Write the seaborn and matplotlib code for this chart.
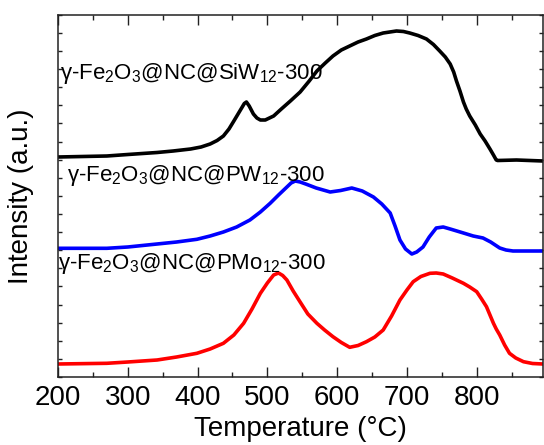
import numpy as np
import pandas as pd
import matplotlib
matplotlib.use("Agg")
import matplotlib.pyplot as plt
from matplotlib.ticker import MultipleLocator
import seaborn as sns

# ---- data (intensity in arbitrary units) ----
siw_T = [200, 270, 300, 342, 365, 390, 405, 418, 428, 437,
         445, 452, 458, 464, 467, 470, 474, 480, 485, 490,
         497, 509, 520, 533, 547, 560, 571, 583, 594, 606,
         618, 630, 642, 654, 666, 685, 695, 704, 716, 728,
         738, 747, 755, 762, 767, 771, 776, 781, 785, 790,
         798, 805, 812, 819, 824, 828, 830, 857, 895]
siw_I = [220, 221, 222.5, 224.5, 226, 228, 230, 233, 236.5, 241,
         248, 256, 263, 270, 273.5, 275, 271, 263, 259, 257,
         257, 261, 268, 276, 285, 296, 306, 314, 321, 327,
         331, 335, 338, 341.5, 344, 346, 345.5, 344, 341.5, 338,
         332.5, 326, 320, 313, 305, 296, 286, 275, 268, 261,
         252, 243, 236, 228, 222, 217, 216.5, 217, 216]

pw_T = [200, 270, 300, 342, 370, 399, 418, 437, 456, 475,
        490, 504, 516, 528, 534, 540, 547, 555, 570, 590,
        605, 621, 636, 652, 664, 676, 683, 690, 698, 707,
        714, 723, 732, 742, 752, 762, 781, 795, 809, 820,
        833, 842, 852, 895]
pw_I = [128.7, 128.7, 130, 133, 135, 137.7, 141, 145, 150, 157,
        165, 173.7, 182, 190, 194, 196, 195, 193, 189, 185,
        186.5, 189, 186, 180, 173, 164, 151, 137, 128, 123,
        125, 130, 140, 149, 150, 148, 144, 141, 139, 135,
        129, 127, 126, 126]

pmo_T = [200, 270, 300, 342, 370, 399, 418, 437, 452, 466,
         478, 490, 500, 509, 516, 522, 528, 537, 547, 558,
         571, 582, 594, 606, 618, 630, 642, 654, 666, 678,
         690, 700, 709, 720, 733, 742, 752, 765, 781, 790,
         800, 807, 814, 819, 824, 828, 833, 840, 847, 856,
         867, 880, 895]
pmo_I = [13, 13.7, 15, 17, 20, 23.7, 28, 33.7, 42, 53.7,
         68, 83.7, 94, 102, 104, 101.5, 97, 86, 75, 63,
         53.7, 47, 40.3, 34.5, 29.7, 31.5, 35.3, 40, 47, 61,
         77, 87, 95.3, 100.5, 103.7, 104, 103, 99, 93.7, 90,
         85.3, 78, 70.3, 62, 53.7, 48, 42, 32, 23.7, 19,
         15.3, 13.5, 13]

names = ["SiW", "PW", "PMo"]
labels = [r"γ-Fe$_2$O$_3$@NC@SiW$_{12}$-300",
          r"γ-Fe$_2$O$_3$@NC@PW$_{12}$-300",
          r"γ-Fe$_2$O$_3$@NC@PMo$_{12}$-300"]
colors = ["#000000", "#0000FF", "#FF0000"]
xticks = [200, 300, 400, 500, 600, 700, 800]

df = pd.concat([
    pd.DataFrame({"T": siw_T, "I": siw_I, "s": names[0]}),
    pd.DataFrame({"T": pw_T, "I": pw_I, "s": names[1]}),
    pd.DataFrame({"T": pmo_T, "I": pmo_I, "s": names[2]}),
])

sns.set_style("ticks")
plt.rcParams["font.family"] = ["Liberation Sans", "DejaVu Sans"]
plt.rcParams["mathtext.default"] = "regular"
plt.rcParams["text.color"] = "black"
plt.rcParams["axes.labelcolor"] = "black"
plt.rcParams["xtick.color"] = "black"
plt.rcParams["ytick.color"] = "black"

fig = plt.figure(figsize=(5.44, 4.45), dpi=100)
ax = fig.add_axes([58 / 544, 1 - 377 / 445, 485 / 544, (377 - 14.7) / 445])

sns.lineplot(data=df, x="T", y="I", hue="s", palette=dict(zip(names, colors)),
             linewidth=2.6, legend=False, ax=ax, sort=False, estimator=None)
for ln in ax.lines:
    ln.set_solid_joinstyle("round")
    ln.set_solid_capstyle("round")

ax.set_xlim(200, 895)
ax.set_ylim(0, 362.3)
ax.set_xticks(xticks)
ax.set_xticklabels([str(t) for t in xticks])
ax.xaxis.set_minor_locator(MultipleLocator(50))
ax.set_yticks([])
ax.yaxis.set_minor_locator(MultipleLocator(362.3 / 20))
ax.tick_params(axis="both", which="both", direction="in", top=True, right=True,
               color="#222222", width=1.0)
ax.tick_params(axis="x", which="major", length=7, labelsize=20, pad=6)
ax.tick_params(axis="x", which="minor", length=3.5)
ax.tick_params(axis="y", which="minor", length=3)
for sp in ax.spines.values():
    sp.set_linewidth(1.1)
    sp.set_color("#222222")

ax.set_xlabel("Temperature (°C)", fontsize=20, labelpad=3)
ax.set_ylabel("Intensity (a.u.)", fontsize=20, labelpad=14)

ax.text(203, 304, labels[0], fontsize=16, va="center", ha="left")
ax.text(213, 202, labels[1], fontsize=16, va="center", ha="left")
ax.text(200, 114, labels[2], fontsize=16, va="center", ha="left")

fig.savefig("out.png", dpi=100)
